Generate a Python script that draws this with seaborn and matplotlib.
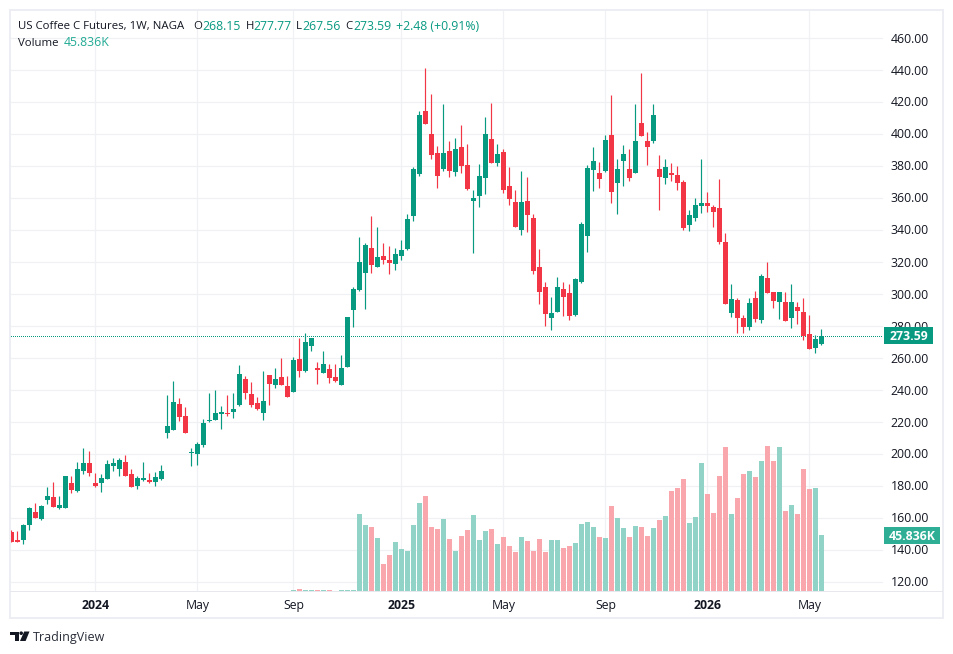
import numpy as np
import pandas as pd
import matplotlib
matplotlib.use("Agg")
import matplotlib.pyplot as plt
from matplotlib.patches import Rectangle, Polygon, Circle
from matplotlib.transforms import Affine2D
import seaborn as sns

# Weekly coffee futures candles
opens = [150.8, 145.8, 145.8, 155.2, 163.3, 158.9, 170.8, 172.7, 165.8, 165.8,
         181.4, 176.4, 188.9, 193.9, 181.4, 181.4, 183.9, 192.05, 190.2, 194.55,
         187.05, 179.55, 183.3, 183.3, 182.05, 183.9, 212.7, 214.55, 230.8, 223.3,
         200.2, 199.55, 205.2, 220.2, 220.8, 224.55, 225.2, 225.8, 230.2, 246.4,
         237.05, 231.4, 225.2, 248.9, 242.7, 247.7, 242.05, 238.3, 258.9, 251.4,
         267.05, 253.3, 250.2, 252.7, 247.7, 242.7, 253.9, 289.55, 302.05, 312.7,
         328.3, 316.4, 323.3, 320.8, 318.3, 323.3, 327.7, 348.3, 374.55, 413.9,
         399.55, 387.7, 377.7, 388.9, 375.8, 391.4, 380.2, 357.7, 360.8, 372.05,
         396.4, 381.4, 388.3, 367.05, 357.05, 339.55, 357.7, 347.05, 316.4, 303.9,
         284.55, 288.3, 302.7, 300.2, 286.4, 307.05, 335.8, 377.05, 375.2, 376.4,
         398.9, 368.9, 382.7, 377.7, 375.2, 406.4, 395.2, 395.2, 377.7, 372.05,
         375.2, 373.9, 369.55, 342.7, 347.05, 354.55, 356.4, 353.95, 353.3, 332.05,
         287.7, 295.8, 284.55, 278.95, 297.05, 283.3, 309.55, 300.8, 294.55, 294.55,
         284.55, 291.4, 288.3, 274.55, 265.8, 268.15]
highs = [152.05, 151.4, 155.8, 166.4, 168.9, 167.7, 178.9, 182.05, 173.3, 185.8,
         185.8, 194.55, 203.3, 201.4, 187.7, 187.05, 195.8, 197.05, 197.05, 198.9,
         190.2, 185.8, 194.55, 187.7, 188.3, 192.7, 236.4, 245.2, 234.55, 228.9,
         203.3, 207.05, 221.4, 237.7, 239.55, 229.55, 236.4, 237.7, 255.2, 248.3,
         244.55, 235.2, 251.4, 248.9, 253.3, 259.55, 248.3, 260.2, 272.05, 275.2,
         272.05, 257.05, 263.9, 255.8, 255.8, 261.4, 285.2, 303.9, 335.2, 331.4,
         348.3, 341.4, 331.4, 329.55, 328.3, 333.3, 349.55, 378.9, 413.9, 440.8,
         424.55, 392.05, 418.3, 395.2, 397.05, 405.2, 393.3, 364.55, 380.8, 410.2,
         418.9, 393.3, 390.2, 378.9, 364.55, 376.4, 372.7, 349.55, 327.7, 307.05,
         297.7, 310.2, 307.05, 305.8, 309.55, 344.55, 380.2, 391.4, 382.05, 398.9,
         423.9, 383.9, 392.7, 390.2, 418.3, 437.7, 400.8, 418.3, 386.4, 383.9,
         381.4, 379.55, 370.8, 352.05, 359.55, 383.9, 363.3, 355.2, 371.4, 337.7,
         305.8, 297.05, 286.4, 297.05, 301.4, 312.05, 319.55, 300.8, 300.8, 300.8,
         305.8, 294.55, 297.05, 286.4, 273.95, 277.77]
lows = [144.55, 144.55, 143.3, 152.05, 159.55, 158.3, 168.3, 166.4, 165.2, 165.8,
        175.2, 175.8, 187.05, 185.8, 178.9, 175.8, 183.9, 188.9, 185.8, 185.8,
        178.9, 177.7, 182.7, 181.4, 179.55, 183.3, 209.55, 214.55, 220.2, 212.7,
        192.05, 192.7, 203.9, 219.55, 220.8, 215.2, 223.3, 222.05, 229.55, 233.9,
        228.9, 227.05, 220.8, 230.2, 240.8, 242.7, 235.2, 238.3, 247.7, 250.8,
        263.9, 243.3, 250.2, 243.9, 244.55, 242.7, 253.9, 278.9, 301.4, 290.2,
        312.7, 316.4, 318.3, 312.05, 314.55, 320.8, 327.05, 345.2, 373.3, 405.8,
        383.9, 365.8, 376.4, 372.7, 373.3, 375.2, 364.55, 325.2, 353.95, 362.05,
        381.4, 379.55, 362.7, 355.2, 341.4, 336.4, 338.3, 312.05, 293.3, 279.55,
        277.05, 288.3, 285.8, 283.3, 285.8, 306.4, 325.8, 363.95, 365.8, 375.8,
        356.4, 349.55, 367.05, 370.2, 375.2, 398.3, 380.2, 393.9, 352.05, 368.3,
        370.2, 364.55, 339.55, 338.9, 345.2, 350.2, 350.8, 341.4, 330.8, 293.3,
        285.2, 275.2, 275.2, 277.05, 282.05, 281.4, 300.2, 290.8, 283.95, 282.7,
        278.3, 280.8, 270.8, 265.2, 262.7, 267.56]
closes = [144.55, 145.0, 155.2, 165.8, 159.55, 167.05, 173.3, 166.4, 167.7, 185.8,
          177.05, 190.2, 193.9, 187.7, 179.55, 184.55, 193.3, 193.9, 195.8, 185.8,
          178.9, 184.55, 184.55, 182.05, 185.2, 188.9, 217.05, 232.05, 222.7, 212.7,
          200.8, 205.8, 218.9, 220.8, 225.2, 225.8, 224.55, 227.7, 249.55, 237.7,
          230.2, 227.7, 232.7, 243.3, 246.4, 242.7, 235.2, 258.3, 251.4, 269.55,
          272.05, 252.05, 255.8, 247.05, 245.2, 253.3, 285.2, 302.7, 319.55, 330.2,
          317.7, 322.7, 320.8, 318.9, 324.55, 327.05, 346.4, 377.7, 411.4, 405.8,
          386.4, 373.3, 387.7, 376.4, 390.2, 379.55, 365.2, 359.55, 373.3, 399.55,
          381.4, 387.05, 364.55, 358.9, 341.4, 357.05, 348.9, 313.9, 300.8, 287.05,
          287.7, 303.9, 297.7, 285.8, 308.9, 343.3, 378.3, 382.7, 371.4, 395.8,
          363.3, 377.7, 387.05, 372.05, 395.2, 398.3, 391.4, 411.4, 372.7, 378.9,
          373.9, 368.9, 340.8, 348.9, 355.2, 356.4, 354.55, 350.8, 332.05, 293.3,
          296.4, 284.55, 278.95, 293.95, 283.95, 310.8, 300.2, 295.2, 300.8, 282.7,
          294.55, 288.95, 273.3, 265.2, 271.45, 273.59]

# Volume (thousands) reported from this week onward
volume_first_week = 47
volumes = [0.8, 1.6, 0.8, 0.8, 0.8, 0.8, 0.8, 0.0, 0.8, 0.8, 0.8,
           63.0, 54.0, 52.4, 43.4, 22.1, 29.5, 40.1, 34.4, 32.7, 54.0,
           72.0, 77.7, 52.4, 50.7, 58.9, 42.6, 32.7, 45.0, 49.9, 62.2,
           41.7, 49.1, 50.7, 38.5, 44.2, 36.8, 31.9, 44.2, 40.9, 32.7,
           42.6, 31.9, 41.7, 41.7, 35.2, 36.8, 39.3, 54.8, 56.5, 52.4,
           44.2, 43.4, 69.6, 59.7, 51.6, 44.2, 53.2, 52.4, 45.0, 51.6,
           58.1, 61.4, 81.8, 84.3, 91.7, 55.7, 60.6, 104.8, 79.4, 63.8,
           94.1, 117.9, 63.0, 76.1, 95.8, 98.2, 93.3, 106.4, 118.7, 106.4,
           117.9, 65.5, 70.4, 63.0, 99.8, 83.5, 84.3, 45.836]

time_tick_weeks = [14, 31, 47, 65, 82, 99, 116, 133]
time_tick_labels = ["2024", "May", "Sep", "2025", "May", "Sep", "2026", "May"]
year_labels = {"2024", "2025", "2026"}
price_ticks = list(range(120, 480, 20))
last_close = 273.59

UP, DOWN = "#089981", "#F23645"
UP_SOFT, DOWN_SOFT = "#91D4C7", "#FAA6AD"
GRID = "#F0F1F4"
FRAME = "#EDEEF4"
INK = "#131722"
FONT = ["Open Sans", "DejaVu Sans"]

W, H = 954, 654
sns.set_theme(style="white")
plt.rcParams["font.family"] = FONT

fig = plt.figure(figsize=(W / 100, H / 100), dpi=100, facecolor="white")
to_px = Affine2D().scale(1, -1).translate(0, H)   # pixel coordinates, y down

LEFT, RIGHT, TOP, BOTTOM = 11, 883, 11, 591
rect = [LEFT / W, 1 - BOTTOM / H, (RIGHT - LEFT) / W, (BOTTOM - TOP) / H]

candles = pd.DataFrame({"week": np.arange(len(opens)), "open": opens, "high": highs,
                        "low": lows, "close": closes})
candles["rising"] = candles["close"] >= candles["open"]
candles["base"] = candles[["open", "close"]].min(axis=1)
candles["body"] = (candles["close"] - candles["open"]).abs()

volume_frame = pd.DataFrame({"week": volume_first_week + np.arange(len(volumes)),
                             "volume": volumes})
volume_frame["rising"] = candles.set_index("week").loc[volume_frame["week"], "rising"].values
volume_frame = volume_frame[volume_frame["volume"] > 0]

# Price pane
price_ax = fig.add_axes(rect, zorder=1, facecolor="white")
last_line = price_ax.axhline(last_close, color=UP, lw=0.72, ls=(0, (1, 2)), zorder=1.5)
last_line.set_snap(True)
last_line.set_antialiased(False)
for rising, color in [(True, UP), (False, DOWN)]:
    part = candles[candles["rising"] == rising]
    price_ax.vlines(part["week"], part["low"], part["high"], color=color, lw=0.85, zorder=2)
    sns.barplot(data=part, x="week", y="body", bottom=part["base"].to_numpy(), native_scale=True,
                orient="x", color=color, saturation=1, width=0.84, linewidth=0,
                errorbar=None, ax=price_ax, zorder=3)

px_per_week = 6
price_per_px = 20 / 32
price_ax.set_xlim((LEFT - 11.5) / px_per_week, (RIGHT - 11.5) / px_per_week)
price_ax.set_ylim(260 - (BOTTOM - 357.5) * price_per_px, 260 + (357.5 - TOP) * price_per_px)
price_ax.set_yticks(price_ticks, [f"{p:.2f}" for p in price_ticks])
price_ax.set_xticks(time_tick_weeks, time_tick_labels)
price_ax.set(xlabel="", ylabel="")
price_ax.yaxis.tick_right()
price_ax.tick_params(axis="y", length=0, pad=5.6, labelsize=8.8, labelcolor=INK)
price_ax.tick_params(axis="x", length=0, pad=5.6, labelsize=8.8, labelcolor=INK)
for label_artist in price_ax.get_xticklabels():
    if label_artist.get_text() in year_labels:
        label_artist.set_fontweight("bold")
price_ax.grid(True, color=GRID, lw=0.9, zorder=0)
price_ax.set_axisbelow(True)
for side in ["top", "left", "right", "bottom"]:
    price_ax.spines[side].set_visible(False)

# Volume pane, overlaid on the lower part of the price pane
volume_ax = fig.add_axes(rect, zorder=2)
volume_ax.patch.set_visible(False)
sns.barplot(data=volume_frame, x="week", y="volume", hue="rising", dodge=False, native_scale=True,
            orient="x", palette={True: UP_SOFT, False: DOWN_SOFT}, saturation=1, width=0.84,
            linewidth=0, errorbar=None, legend=False, ax=volume_ax)
volume_ax.set_xlim(price_ax.get_xlim())
volume_ax.set_ylim(0, (BOTTOM - TOP) * 45.836 / 56)
volume_ax.set_axis_off()


def label(x, y, text, color=INK, size=8.8, weight="normal", ha="left"):
    fig.text(x, y, text, transform=to_px, color=color, fontsize=size, fontweight=weight,
             ha=ha, va="center_baseline", family=FONT, zorder=10)


def box(x0, y0, x1, y1, color, z=5, **kw):
    fig.add_artist(Rectangle((x0, y0), x1 - x0, y1 - y0, transform=to_px, facecolor=color,
                             edgecolor="none", zorder=z, **kw))


# Outer frame and time-axis rule
fig.add_artist(Rectangle((10, 10), 933, 608, transform=to_px, facecolor="none",
                         edgecolor=FRAME, lw=1.4, zorder=6))
box(10, 590.5, 943, 591.8, "#E6E8EE", z=6)

# Header
label(18, 25, "US Coffee C Futures, 1W, NAGA", size=8.2)
label(193.5, 25, "O", size=8.2)
label(202, 25, "268.15", UP)
label(245.5, 25, "H", size=8.2)
label(253, 25, "277.77", UP)
label(296, 25, "L", size=8.2)
label(302.5, 25, "267.56", UP)
label(345.5, 25, "C", size=8.2)
label(353, 25, "273.59", UP)
label(395.5, 25, "+2.48 (+0.91%)", UP)
label(18, 41.5, "Volume", size=8.2)
label(64, 41.5, "45.836K", "#22AB94")

# Price-scale badges
box(884, 327, 933, 344, UP)
label(908.5, 335.5, "273.59", "white", weight="bold", ha="center")
box(884, 527, 940, 544, "#2FAE96")
label(912, 535.5, "45.836K", "white", weight="bold", ha="center")

# Logo mark and wordmark
ink = "#131722"
fig.add_artist(Polygon([(10, 631.5), (19, 631.5), (19, 641), (15, 641), (15, 635), (10, 635)],
                       closed=True, transform=to_px, facecolor=ink, edgecolor="none", zorder=6))
fig.add_artist(Circle((21.2, 633.2), 1.8, transform=to_px, facecolor=ink, edgecolor="none", zorder=6))
fig.add_artist(Polygon([(24.2, 631.5), (29.5, 631.5), (25.6, 641), (20, 641)], closed=True,
                       transform=to_px, facecolor=ink, edgecolor="none", zorder=6))
label(33, 636.5, "TradingView", "#2A2E39", size=9)

fig.savefig("out.png", dpi=100, facecolor="white")
